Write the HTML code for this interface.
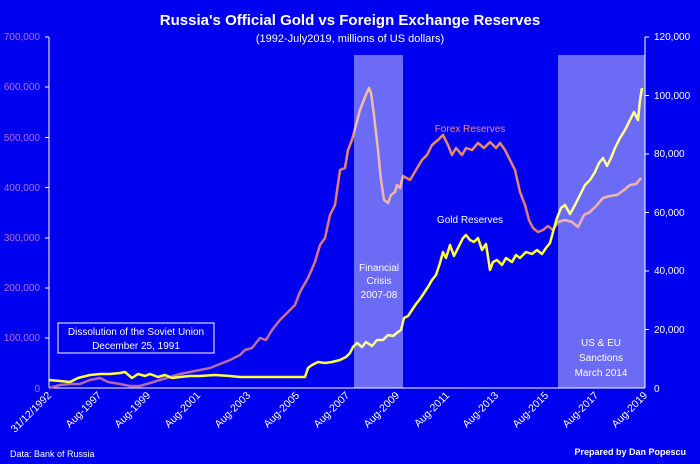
<!DOCTYPE html>
<html><head><meta charset="utf-8"><style>
html,body{margin:0;padding:0;background:#0000f0;}
svg{display:block;font-family:"Liberation Sans",sans-serif;}
</style></head><body>
<svg width="700" height="464" viewBox="0 0 700 464">
<defs>
<linearGradient id="fx" gradientUnits="userSpaceOnUse" x1="0" y1="388" x2="0" y2="90">
<stop offset="0" stop-color="#b068b0"/><stop offset="0.5" stop-color="#e07a78"/><stop offset="1" stop-color="#f09060"/>
</linearGradient>
</defs>
<rect x="0" y="0" width="700" height="464" fill="#0000f0"/>
<text x="350" y="25" text-anchor="middle" fill="#fff" font-size="15" font-weight="bold">Russia's Official Gold vs Foreign Exchange Reserves</text>
<text x="350" y="42" text-anchor="middle" fill="#fff" font-size="11">(1992-July2019, millions of US dollars)</text>
<g stroke="#fff" stroke-width="1" fill="none">
<line x1="49" y1="37" x2="49" y2="388"/>
<line x1="645" y1="37" x2="645" y2="388"/>
<line x1="49" y1="388" x2="645" y2="388"/>
<line x1="45" y1="37" x2="49" y2="37"/><line x1="45" y1="87" x2="49" y2="87"/><line x1="45" y1="137.5" x2="49" y2="137.5"/><line x1="45" y1="187.5" x2="49" y2="187.5"/><line x1="45" y1="238" x2="49" y2="238"/><line x1="45" y1="288" x2="49" y2="288"/><line x1="45" y1="338" x2="49" y2="338"/>
<line x1="645" y1="37" x2="649" y2="37"/><line x1="645" y1="95.5" x2="649" y2="95.5"/><line x1="645" y1="154" x2="649" y2="154"/><line x1="645" y1="212.5" x2="649" y2="212.5"/><line x1="645" y1="271" x2="649" y2="271"/><line x1="645" y1="329.5" x2="649" y2="329.5"/>
</g>
<g fill="#b070e0" font-size="10" text-anchor="end">
<text x="40" y="40">700,000</text><text x="40" y="90">600,000</text><text x="40" y="141">500,000</text><text x="40" y="191">400,000</text><text x="40" y="241">300,000</text><text x="40" y="291">200,000</text><text x="40" y="341">100,000</text><text x="40" y="392">0</text>
</g>
<g fill="#fff" font-size="10">
<text x="654" y="40">120,000</text><text x="654" y="99">100,000</text><text x="654" y="157">80,000</text><text x="654" y="216">60,000</text><text x="654" y="274">40,000</text><text x="654" y="333">20,000</text><text x="654" y="392">0</text>
</g>
<g fill="#fff" font-size="10.5" text-anchor="end">
<text transform="translate(52,396) rotate(-45)">31/12/1992</text>
<text transform="translate(102,396) rotate(-45)">Aug-1997</text>
<text transform="translate(151,396) rotate(-45)">Aug-1999</text>
<text transform="translate(201,396) rotate(-45)">Aug-2001</text>
<text transform="translate(251,396) rotate(-45)">Aug-2003</text>
<text transform="translate(300,396) rotate(-45)">Aug-2005</text>
<text transform="translate(350,396) rotate(-45)">Aug-2007</text>
<text transform="translate(400,396) rotate(-45)">Aug-2009</text>
<text transform="translate(450,396) rotate(-45)">Aug-2011</text>
<text transform="translate(499,396) rotate(-45)">Aug-2013</text>
<text transform="translate(549,396) rotate(-45)">Aug-2015</text>
<text transform="translate(599,396) rotate(-45)">Aug-2017</text>
<text transform="translate(648,396) rotate(-45)">Aug-2019</text>
</g>
<polyline fill="none" stroke="url(#fx)" stroke-width="2.5" stroke-linejoin="round" points="49,388 60,385 70,384 80,384 90,380 100,378 108,382 120,384 130,386 140,386 150,383 160,380 170,377 180,374 190,372 200,370 210,368 220,364 230,360 240,355 245,350 252,348 260,338 266,340 272,330 280,320 288,312 295,305 300,292 308,278 315,262 320,245 325,238 330,215 335,205 340,170 345,168 348,150 352,140 356,125 360,110 365,97 369,88 371,93 374,115 378,150 381,180 384,200 388,203 391,195 395,192 397,185 400,188 403,176 410,180 416,170 422,160 427,155 432,145 438,140 443,135 448,145 452,155 456,148 462,155 466,148 472,150 478,143 484,148 490,142 496,148 500,143 505,150 510,160 515,170 520,192 525,205 529,220 533,228 538,232 543,230 548,226 553,230 558,222 565,220 572,222 578,227 584,215 590,212 597,205 603,198 610,196 617,195 624,190 630,185 636,184 641,178"/>
<polyline fill="none" stroke="#ffff40" stroke-width="2.5" stroke-linejoin="round" points="49,380 60,381 70,382 78,378 90,375 100,374 110,374 120,373 125,372 132,378 138,374 145,376 150,374 158,377 165,375 172,378 180,377 190,376 200,376 215,375 230,376 240,377 260,377 280,377 300,377 305,377 308,368 312,365 318,362 325,363 332,362 340,360 346,357 350,353 353,347 357,343 362,347 366,342 372,346 377,340 383,340 388,335 393,336 398,332 401,330 404,318 408,316 412,310 416,304 420,299 424,293 428,287 432,280 436,275 440,263 443,252 446,258 450,245 454,256 458,248 463,238 466,235 470,240 474,242 478,238 482,250 486,244 490,270 493,262 497,260 502,265 506,258 512,262 516,255 520,258 526,252 532,254 537,250 542,254 546,248 550,243 553,232 557,218 561,208 565,205 570,214 575,205 580,195 585,185 590,180 595,172 599,163 603,158 607,166 611,158 615,148 620,138 625,130 631,118 634,112 638,120 640,100 642,88"/>
<rect x="354" y="55" width="49" height="333" fill="#fff" fill-opacity="0.42"/>
<rect x="558" y="55" width="87" height="333" fill="#fff" fill-opacity="0.42"/>
<text x="470" y="132" text-anchor="middle" fill="#e88a90" font-size="10">Forex Reserves</text>
<text x="470" y="223" text-anchor="middle" fill="#fff" font-size="10">Gold Reserves</text>
<g fill="#fff" font-size="10" text-anchor="middle">
<text x="379" y="271">Financial</text><text x="379" y="284">Crisis</text><text x="379" y="298">2007-08</text>
<text x="601" y="346">US &amp; EU</text><text x="601" y="361">Sanctions</text><text x="601" y="376">March 2014</text>
</g>
<rect x="58" y="323" width="156" height="30" fill="#0000f0" stroke="#fff" stroke-width="1"/>
<text x="136" y="335" text-anchor="middle" fill="#fff" font-size="10">Dissolution of the Soviet Union</text>
<text x="136" y="349" text-anchor="middle" fill="#fff" font-size="10">December 25, 1991</text>
<text x="10" y="457" fill="#fff" font-size="9">Data: Bank of Russia</text>
<text x="686" y="455" text-anchor="end" fill="#fff" font-size="9" font-weight="bold">Prepared by Dan Popescu</text>
</svg>
</body></html>
